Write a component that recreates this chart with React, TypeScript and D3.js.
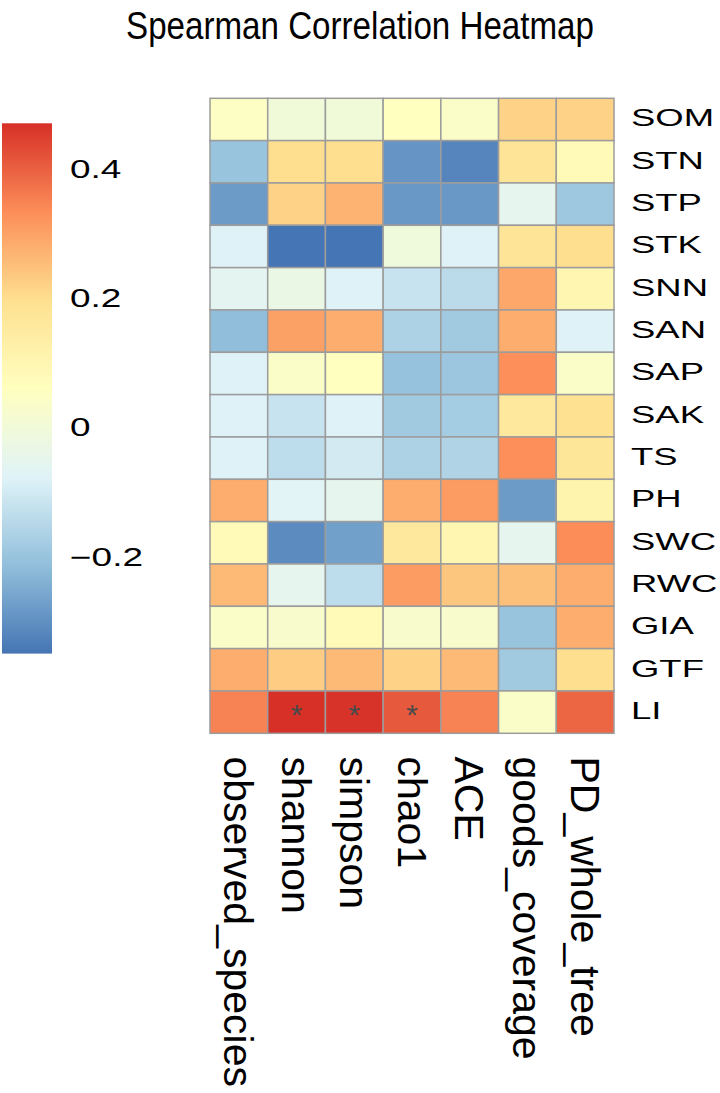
import React from "react";
import * as d3 from "d3";

const rowsLabels = ["SOM", "STN", "STP", "STK", "SNN", "SAN", "SAP", "SAK", "TS", "PH", "SWC", "RWC", "GIA", "GTF", "LI"];
const colLabels = ["observed_species", "shannon", "simpson", "chao1", "ACE", "goods_coverage", "PD_whole_tree"];

// correlation values, one array per row (columns in colLabels order)
const SOM = [0.05, 0.0, 0.0, 0.06, 0.04, 0.22, 0.22];
const STN = [-0.2, 0.2, 0.2, -0.29, -0.32, 0.18, 0.08];
const STP = [-0.28, 0.22, 0.27, -0.285, -0.285, -0.05, -0.19];
const STK = [-0.08, -0.35, -0.35, -0.01, -0.08, 0.18, 0.2];
const SNN = [-0.06, -0.03, -0.08, -0.12, -0.14, 0.29, 0.1];
const SAN = [-0.215, 0.3, 0.28, -0.165, -0.185, 0.28, -0.08];
const SAP = [-0.08, 0.04, 0.06, -0.205, -0.195, 0.33, 0.04];
const SAK = [-0.08, -0.12, -0.08, -0.185, -0.18, 0.16, 0.19];
const TS = [-0.08, -0.135, -0.1, -0.165, -0.16, 0.33, 0.17];
const PH = [0.28, -0.07, -0.05, 0.28, 0.31, -0.28, 0.11];
const SWC = [0.08, -0.31, -0.27, 0.16, 0.1, -0.05, 0.335];
const RWC = [0.26, -0.05, -0.135, 0.31, 0.24, 0.25, 0.28];
const GIA = [0.04, 0.03, 0.08, 0.03, 0.03, -0.2, 0.28];
const GTF = [0.28, 0.23, 0.26, 0.22, 0.26, -0.185, 0.2];
const LI = [0.35, 0.47, 0.465, 0.41, 0.35, 0.04, 0.39];
const values = [SOM, STN, STP, STK, SNN, SAN, SAP, SAK, TS, PH, SWC, RWC, GIA, GTF, LI];

// significance marks: [row, col]
const stars: [string, string][] = [["LI", "shannon"], ["LI", "simpson"], ["LI", "chao1"]];

const legendTicks = [-0.2, 0, 0.2, 0.4];
const palette = ["#4575B4", "#91BFDB", "#E0F3F8", "#FFFFBF", "#FEE090", "#FC8D59", "#D73027"];
const title = "Spearman Correlation Heatmap";

const W = 720;
const H = 1093;
const FONT = "'Liberation Sans', Arial, Helvetica, sans-serif";

export default function App() {
  const all = values.flat();
  const [vmin, vmax] = d3.extent(all) as [number, number];
  const stops = palette.map((_, i) => vmin + (i * (vmax - vmin)) / (palette.length - 1));
  const color = d3.scaleLinear<string>().domain(stops).range(palette).interpolate(d3.interpolateRgb);

  const x = d3.scaleBand<string>().domain(colLabels).range([210, 614]);
  const y = d3.scaleBand<string>().domain(rowsLabels).range([98.3, 733.3]);

  const legY = d3.scaleLinear().domain([vmin, vmax]).range([653.6, 123.3]);
  const gradStops = d3.range(0, 101).map((i) => {
    const v = vmin + (i / 100) * (vmax - vmin);
    return { off: i, c: color(v) };
  });

  const fmt = (v: number) => (v === 0 ? "0" : v < 0 ? "\u2212" + String(Math.abs(v)) : String(v));

  return (
    <svg width={W} height={H} style={{ position: "absolute", left: 0, top: 0, background: "#fff" }}>
      <defs>
        <linearGradient id="leg" x1="0" y1="1" x2="0" y2="0">
          {gradStops.map((s) => (
            <stop key={s.off} offset={`${s.off}%`} stopColor={s.c} />
          ))}
        </linearGradient>
      </defs>
      <text
        transform={`translate(360,39) scale(0.85,1)`}
        textAnchor="middle"
        fontFamily={FONT}
        fontSize={39}
        fill="#000"
      >
        {title}
      </text>

      {/* legend */}
      <rect x={2} y={legY(vmax)} width={50} height={legY(vmin) - legY(vmax)} fill="url(#leg)" />
      {legendTicks.map((t) => (
        <text
          key={t}
          transform={`translate(70,${legY(t) + 9}) scale(1.45,1)`}
          fontFamily={FONT}
          fontSize={25.5}
          fill="#000"
        >
          {fmt(t)}
        </text>
      ))}

      {/* cells */}
      {rowsLabels.map((r, i) =>
        colLabels.map((c, j) => (
          <rect
            key={r + c}
            x={x(c)}
            y={y(r)}
            width={x.bandwidth()}
            height={y.bandwidth()}
            fill={color(values[i][j])}
            stroke="#9c9c9c"
            strokeWidth={1.5}
          />
        ))
      )}

      {stars.map(([r, c]) => (
        <text
          key={r + c}
          x={(x(c) as number) + x.bandwidth() / 2}
          y={(y(r) as number) + y.bandwidth() / 2 + 13}
          textAnchor="middle"
          fontFamily={FONT}
          fontSize={30}
          fill="#4a4a4a"
        >
          *
        </text>
      ))}

      {/* row labels */}
      {rowsLabels.map((r) => (
        <text
          key={r}
          transform={`translate(631,${(y(r) as number) + y.bandwidth() / 2 + 7}) scale(1.52,1)`}
          fontFamily={FONT}
          fontSize={24}
          fill="#000"
        >
          {r}
        </text>
      ))}

      {/* column labels */}
      {colLabels.map((c) => (
        <text
          key={c}
          transform={`translate(${(x(c) as number) + x.bandwidth() / 2 - 14.5},756.5) rotate(90)`}
          fontFamily={FONT}
          fontSize={41}
          fill="#000"
        >
          {c}
        </text>
      ))}
    </svg>
  );
}
